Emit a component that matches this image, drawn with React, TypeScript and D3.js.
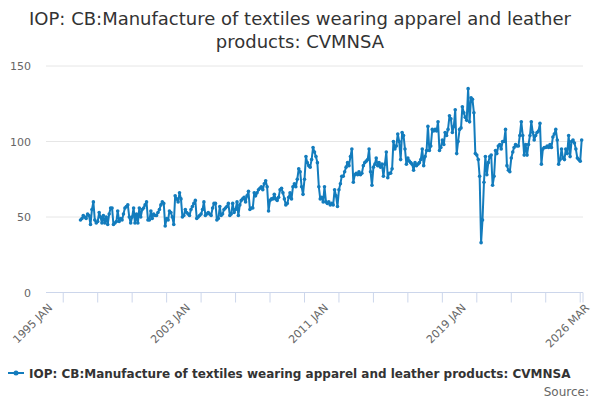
import React, { useEffect, useRef } from 'react';
import * as d3 from 'd3';

const title = [
  'IOP: CB:Manufacture of textiles wearing apparel and leather',
  'products: CVMNSA',
];
const seriesName =
  'IOP: CB:Manufacture of textiles wearing apparel and leather products: CVMNSA';

// monthly values, first point is 1997 JAN
const firstMonth = new Date(1997, 0, 1);

const values1997to2002 = [
  48, 49, 51, 50, 49, 52, 51, 45, 55, 60, 48, 46,
  47, 53, 50, 46, 51, 46, 50, 45, 52, 56, 56, 45,
  46, 47, 54, 47, 49, 48, 52, 56, 57, 58, 50, 46,
  50, 56, 46, 52, 46, 56, 50, 55, 56, 58, 60, 48,
  48, 54, 49, 52, 51, 51, 53, 55, 58, 60, 59, 44,
  49, 48, 54, 53, 50, 45, 64, 62, 60, 66, 62, 50,
];

const values2003to2008 = [
  51, 55, 53, 52, 51, 55, 57, 59, 61, 49, 50, 51,
  52, 55, 60, 51, 52, 53, 52, 51, 56, 59, 59, 48,
  49, 57, 51, 52, 55, 56, 57, 59, 51, 52, 59, 53,
  55, 60, 51, 58, 61, 62, 63, 60, 64, 67, 55, 56,
  56, 66, 64, 66, 68, 69, 70, 68, 72, 74, 70, 54,
  61, 62, 62, 65, 62, 61, 63, 68, 69, 66, 62, 58,
];

const values2009to2014 = [
  59, 63, 66, 62, 70, 72, 70, 75, 82, 80, 70, 65,
  75, 90, 86, 84, 83, 88, 96, 93, 90, 86, 70, 62,
  63, 60, 70, 60, 59, 60, 58, 59, 58, 68, 64, 57,
  68, 72, 77, 77, 80, 83, 86, 84, 90, 95, 73, 78,
  79, 78, 80, 78, 79, 84, 86, 87, 88, 95, 80, 71,
  83, 85, 89, 84, 86, 83, 85, 77, 85, 93, 76, 79,
];

const values2015to2020 = [
  79, 82, 100, 95, 97, 105, 100, 88, 106, 104, 95, 85,
  89, 87, 86, 85, 81, 86, 84, 85, 86, 88, 95, 84,
  90, 94, 110, 94, 97, 108, 107, 108, 107, 113, 94, 96,
  101, 98, 106, 104, 108, 117, 115, 106, 110, 121, 92, 100,
  108, 109, 123, 119, 116, 114, 135, 113, 129, 128, 119, 92,
  91, 88, 77, 33, 48, 73, 90, 78, 86, 90, 91, 71,
];

const values2021to2026 = [
  77, 94, 92, 97, 98, 95, 100, 100, 108, 84, 81, 80,
  89, 93, 96, 98, 97, 97, 104, 113, 104, 91, 98, 91,
  98, 104, 113, 106, 101, 104, 106, 107, 112, 85, 95, 96,
  96, 97, 96, 98, 96, 103, 105, 108, 101, 85, 88, 95,
  89, 88, 95, 92, 104, 90, 100, 101, 99, 95, 89, 88,
  87, 101,
];

const yTicks = [0, 50, 100, 150];
const xTickLabels = ['1995 JAN', '2003 JAN', '2011 JAN', '2019 JAN', '2026 MAR'];

interface IPoint {
  date: Date;
  value: number;
}

const allValues = [
  ...values1997to2002,
  ...values2003to2008,
  ...values2009to2014,
  ...values2015to2020,
  ...values2021to2026,
];

const data: IPoint[] = allValues.map((v, i) => ({
  date: d3.timeMonth.offset(firstMonth, i),
  value: v,
}));

const parseLabel = (s: string) => d3.timeParse('%Y %b')(s.replace(/ (\w)(\w+)/, (_m, a, b) => ` ${a}${b.toLowerCase()}`)) as Date;

const App: React.FC = () => {
  const ref = useRef<HTMLDivElement>(null);

  useEffect(() => {
    document.body.style.margin = '0';
    if (ref.current) drawChart(ref.current);
  }, []);

  return <div ref={ref}></div>;
};

const drawChart = (container: HTMLDivElement) => {
  const width = 600;
  const height = 400;
  const color = '#137cbd';
  const font = '"DejaVu Sans", sans-serif';

  d3.select(container).select('svg').remove();

  const svg = d3
    .select(container)
    .append('svg')
    .attr('width', width)
    .attr('height', height)
    .style('display', 'block')
    .style('font-family', font);

  svg.append('rect').attr('width', width).attr('height', height).attr('fill', '#fff');

  svg
    .append('g')
    .selectAll('text')
    .data(title)
    .enter()
    .append('text')
    .attr('x', width / 2)
    .attr('y', (d, i) => 25 + i * 23)
    .attr('text-anchor', 'middle')
    .attr('fill', '#333')
    .style('font-size', '18px')
    .text((d) => d);

  const start = parseLabel(xTickLabels[0]);
  const end = parseLabel(xTickLabels[xTickLabels.length - 1]);

  const xScale = d3.scaleTime().domain([start, end]).range([46, 583]);
  const yScale = d3.scaleLinear().domain([0, 150]).range([292.5, 66]);

  // grid
  svg
    .append('g')
    .selectAll('line')
    .data(yTicks.slice(1))
    .enter()
    .append('line')
    .attr('x1', 46)
    .attr('x2', 583)
    .attr('y1', (d) => yScale(d))
    .attr('y2', (d) => yScale(d))
    .attr('stroke', '#e6e6e6');

  svg
    .append('g')
    .selectAll('text')
    .data(yTicks)
    .enter()
    .append('text')
    .attr('x', 31)
    .attr('y', (d) => yScale(d) + 4)
    .attr('text-anchor', 'end')
    .attr('fill', '#666')
    .style('font-size', '11px')
    .text((d) => d);

  // x axis
  const xAxisG = svg.append('g').attr('transform', `translate(0, ${yScale(0)})`);
  const tickDates = d3.timeYear.every(2)!.range(start, end).concat([end]);

  xAxisG
    .append('line')
    .attr('x1', 46)
    .attr('x2', 583)
    .attr('stroke', '#ccd6eb');

  xAxisG
    .selectAll('line.tick')
    .data(tickDates)
    .enter()
    .append('line')
    .attr('class', 'tick')
    .attr('x1', (d) => xScale(d))
    .attr('x2', (d) => xScale(d))
    .attr('y1', 0)
    .attr('y2', 10)
    .attr('stroke', '#ccd6eb');

  xAxisG
    .selectAll('text')
    .data(xTickLabels)
    .enter()
    .append('text')
    .attr('transform', (d) => `translate(${xScale(parseLabel(d)) + 7}, 16) rotate(-45)`)
    .attr('text-anchor', 'end')
    .attr('fill', '#666')
    .style('font-size', '11px')
    .text((d) => d);

  // series
  const lineGenerator = d3
    .line<IPoint>()
    .x((d) => xScale(d.date))
    .y((d) => yScale(d.value));

  svg
    .append('path')
    .attr('d', lineGenerator(data) || '')
    .attr('fill', 'none')
    .attr('stroke', color)
    .attr('stroke-width', 2)
    .attr('stroke-linejoin', 'round');

  svg
    .append('g')
    .selectAll('circle')
    .data(data)
    .enter()
    .append('circle')
    .attr('cx', (d) => xScale(d.date))
    .attr('cy', (d) => yScale(d.value))
    .attr('r', 1.8)
    .attr('fill', color);

  // legend
  const legend = svg.append('g').attr('transform', 'translate(0, 373)');
  legend
    .append('line')
    .attr('x1', 8)
    .attr('x2', 24)
    .attr('stroke', color)
    .attr('stroke-width', 2);
  legend.append('circle').attr('cx', 16).attr('r', 2.5).attr('fill', color);
  legend
    .append('text')
    .attr('x', 29)
    .attr('y', 4.5)
    .attr('fill', '#333')
    .style('font-size', '12px')
    .style('font-weight', 'bold')
    .text(seriesName);

  svg
    .append('text')
    .attr('x', 589)
    .attr('y', 396)
    .attr('text-anchor', 'end')
    .attr('fill', '#666')
    .style('font-size', '12px')
    .text('Source:');
};

export default App;
